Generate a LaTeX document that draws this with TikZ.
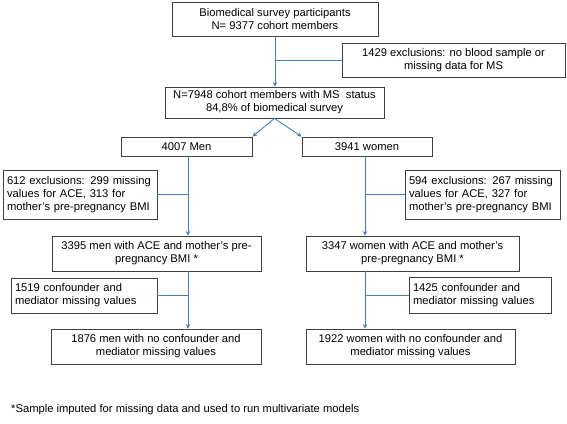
\documentclass[tikz,border=0pt]{standalone}
\usepackage{fontspec}
\setmainfont{Liberation Sans}
\usetikzlibrary{arrows.meta}
\definecolor{conncol}{RGB}{74,126,187}
\begin{document}
\begin{tikzpicture}[x=1pt,y=-1pt,
  box/.style={draw=black!75, line width=0.9pt, fill=white, inner sep=0pt,
    font=\fontsize{11.2}{13}\selectfont, align=center},
  lbox/.style={box, align=left, inner xsep=4pt},
  conn/.style={draw=conncol, line width=0.9pt},
  arr/.style={conn, -{Stealth[length=4.5pt,width=4.5pt]}}]
\useasboundingbox (0,0) rectangle (567,423);
\node[box, minimum width=206pt, minimum height=34pt] (top) at (275,19)
  {Biomedical survey participants\\N= 9377 cohort members};
\node[box, minimum width=223pt, minimum height=34pt] (ex1) at (453.5,60)
  {1429 exclusions: no blood sample or\\missing data for MS};
\node[box, minimum width=219pt, minimum height=31pt] (ms) at (274.5,102.5)
  {N=7948 cohort members with MS\ \ status\\84,8\% of biomedical survey};
\node[box, minimum width=131pt, minimum height=19pt] (men) at (186.5,146.5)
  {4007 Men};
\node[box, minimum width=130pt, minimum height=19pt] (women) at (367,146.5)
  {3941 women};
\node[lbox, text width=146pt, minimum height=49pt] (ex612) at (80,194.5)
  {\mbox{612 exclusions: 299 missing}\\\mbox{values for ACE, 313 for}\\\mbox{mother’s pre-pregnancy BMI}};
\node[lbox, text width=147pt, minimum height=49pt] (ex594) at (482.5,194.5)
  {\mbox{594 exclusions: 267 missing}\\\mbox{values for ACE, 327 for}\\\mbox{mother’s pre-pregnancy BMI}};
\node[box, minimum width=209pt, minimum height=35pt] (m3395) at (156.5,253.5)
  {3395 men with ACE and mother’s pre-\\pregnancy BMI *};
\node[box, minimum width=213pt, minimum height=35pt] (w3347) at (412.5,253.5)
  {3347 women with ACE and mother’s\\pre-pregnancy BMI *};
\node[lbox, text width=138pt, minimum height=35pt] (ex1519) at (84,295.5)
  {\mbox{1519 confounder and}\\\mbox{mediator missing values}};
\node[lbox, text width=134pt, minimum height=36pt] (ex1425) at (480,295)
  {\mbox{1425 confounder and}\\\mbox{mediator missing values}};
\node[box, minimum width=210pt, minimum height=35pt] (m1876) at (156,346.5)
  {1876 men with no confounder and\\mediator missing values};
\node[box, minimum width=209pt, minimum height=35pt] (w1922) at (410.5,346.5)
  {1922 women with no confounder and\\mediator missing values};
\node[anchor=west, inner sep=0pt, font=\fontsize{11.2}{13}\selectfont] (note) at (11,410)
  {*Sample imputed for missing data and used to run multivariate models};
% connectors
\draw[arr] (top.south) -- (top.south |- ms.north);
\draw[conn] (ex1.west) -- (ex1.west -| top.south);
\draw[arr] (ms.south) -- (men.north east);
\draw[arr] (ms.south) -- (women.north west);
\coordinate (mx) at ([xshift=1.5pt]men.south);
\coordinate (wx) at ([xshift=-2pt]women.south);
\draw[arr] (mx) -- (mx |- m3395.north);
\draw[conn] (ex612.east) -- (ex612.east -| mx);
\draw[arr] (wx) -- (wx |- w3347.north);
\draw[conn] (ex594.west) -- (ex594.west -| wx);
\draw[arr] (mx |- m3395.south) -- (mx |- m1876.north);
\draw[conn] (ex1519.east) -- (ex1519.east -| mx);
\draw[arr] (wx |- w3347.south) -- (wx |- w1922.north);
\draw[conn] (ex1425.west) -- (ex1425.west -| wx);
\end{tikzpicture}
\end{document}
